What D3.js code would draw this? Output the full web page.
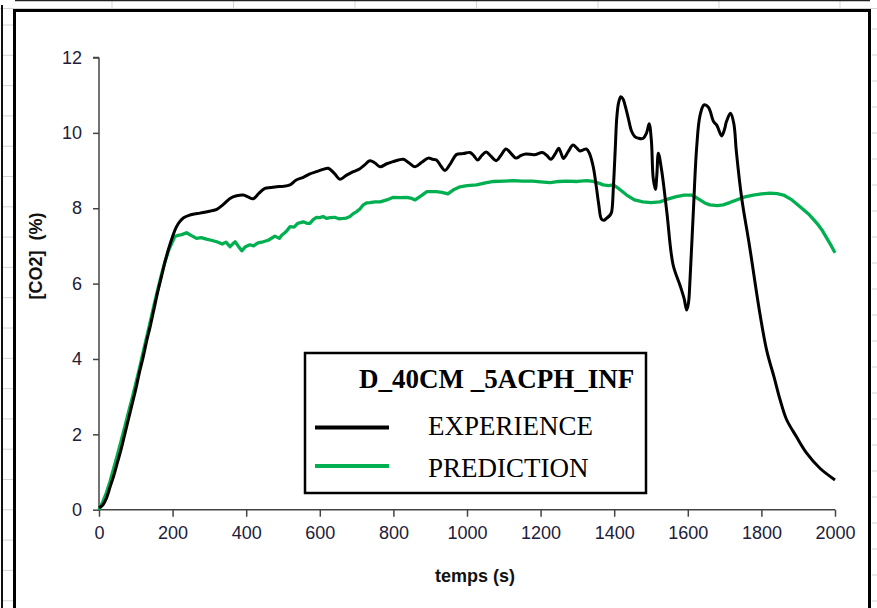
<!DOCTYPE html>
<html>
<head>
<meta charset="utf-8">
<script src="https://cdn.jsdelivr.net/npm/d3@7"></script>
<style>
html,body{margin:0;padding:0;background:#fff;}
svg{display:block;}
</style>
</head>
<body>
<svg id="chart" width="877" height="608"></svg>
<script>
// ---- data ----
const chartTitle = "D_40CM _5ACPH_INF";
const seriesNames = ["EXPERIENCE", "PREDICTION"];
const xTicks = [0, 200, 400, 600, 800, 1000, 1200, 1400, 1600, 1800, 2000];
const yTicks = [0, 2, 4, 6, 8, 10, 12];
const xTitle = "temps (s)";
const yTitle = "[CO2]  (%)";

const expTime = [0,10,20,30,40,50,60,70,80,90,100,110,120,130,140,150,160,170,180,190,200,210,220,230,247,260,274,290,305,320,338,356,374,392,405,419,435,451,467,483,500,519,536,555,573,591,609,623,640,655,673,691,709,722,736,750,764,782,800,814,827,843,859,877,895,906,917,929,940,956,972,990,1008,1018,1029,1040,1052,1065,1079,1092,1106,1120,1133,1147,1160,1183,1205,1217,1228,1240,1249,1256,1262,1275,1288,1298,1307,1316,1325,1333,1343,1351,1358,1365,1372,1379,1389,1393,1398,1403,1407,1412,1418,1424,1429,1438,1447,1456,1465,1478,1488,1495,1501,1506,1512,1516,1520,1529,1543,1560,1579,1590,1597,1602,1606,1615,1624,1633,1644,1656,1670,1679,1692,1700,1705,1716,1725,1732,1746,1768,1796,1815,1835,1851,1868,1895,1923,1959,2000];
const expValue = [0.05,0.12,0.3,0.6,0.9,1.25,1.6,2.0,2.4,2.8,3.2,3.65,4.05,4.5,4.9,5.35,5.8,6.2,6.6,6.95,7.25,7.5,7.65,7.75,7.82,7.85,7.87,7.9,7.93,7.97,8.1,8.26,8.33,8.35,8.3,8.25,8.4,8.53,8.55,8.57,8.58,8.62,8.75,8.82,8.91,8.97,9.03,9.06,8.92,8.77,8.88,8.97,9.05,9.15,9.26,9.2,9.1,9.18,9.24,9.28,9.3,9.2,9.1,9.22,9.33,9.3,9.28,9.12,9.0,9.2,9.43,9.45,9.48,9.4,9.28,9.4,9.49,9.38,9.26,9.4,9.57,9.45,9.33,9.4,9.44,9.42,9.48,9.4,9.3,9.45,9.59,9.45,9.32,9.5,9.68,9.6,9.52,9.55,9.57,9.45,9.1,8.6,8.1,7.72,7.68,7.73,7.82,7.9,8.6,9.6,10.4,10.8,10.96,10.9,10.75,10.4,10.05,9.9,9.86,9.85,10.0,10.24,9.8,8.8,8.5,8.9,9.46,9.0,7.9,6.5,5.95,5.6,5.3,5.5,6.1,7.9,9.6,10.45,10.74,10.68,10.3,10.2,9.92,10.1,10.3,10.52,10.25,9.5,8.3,6.98,5.2,4.2,3.5,2.91,2.4,1.94,1.5,1.1,0.79];

const predTime = [0,10,20,30,40,50,60,70,80,90,100,110,120,130,140,150,160,170,180,190,200,206,215,225,238,250,265,278,292,305,320,335,345,356,363,370,378,388,398,410,420,432,446,460,478,490,497,505,512,519,530,540,555,565,573,582,591,600,609,618,628,640,652,664,672,682,690,700,709,718,727,736,750,764,782,800,818,836,850,859,875,891,904,917,932,948,965,981,1000,1026,1050,1072,1100,1126,1150,1178,1200,1226,1250,1269,1300,1325,1343,1360,1370,1385,1398,1411,1434,1455,1478,1500,1524,1545,1569,1590,1610,1620,1633,1646,1660,1680,1696,1714,1732,1755,1778,1800,1823,1843,1860,1883,1905,1928,1951,1966,1978,1990,2000];
const predValue = [0,0.2,0.45,0.75,1.1,1.45,1.82,2.2,2.58,2.95,3.35,3.75,4.18,4.6,5.02,5.45,5.85,6.25,6.6,6.9,7.12,7.25,7.28,7.3,7.35,7.28,7.2,7.22,7.18,7.15,7.11,7.05,7.1,6.98,7.05,7.11,7.0,6.87,6.98,7.03,7.0,7.08,7.11,7.15,7.26,7.2,7.29,7.35,7.42,7.51,7.5,7.6,7.64,7.6,7.6,7.7,7.76,7.75,7.78,7.73,7.75,7.76,7.72,7.73,7.74,7.78,7.85,7.91,7.98,8.09,8.14,8.15,8.17,8.17,8.22,8.29,8.28,8.29,8.26,8.22,8.33,8.44,8.44,8.44,8.42,8.38,8.5,8.57,8.6,8.62,8.67,8.71,8.72,8.73,8.72,8.72,8.7,8.68,8.71,8.72,8.71,8.73,8.71,8.66,8.62,8.6,8.62,8.53,8.35,8.22,8.17,8.15,8.17,8.24,8.31,8.35,8.35,8.3,8.22,8.14,8.09,8.07,8.09,8.15,8.22,8.3,8.35,8.38,8.4,8.39,8.35,8.22,8.04,7.85,7.6,7.4,7.2,7.0,6.82];

const colors = ["#000000", "#00b050"];

// ---- drawing ----
const svg = d3.select("#chart");
const W = 877, H = 608;

// spreadsheet background grid
const grid = svg.append("g").attr("stroke", "#d4d4d4").attr("stroke-width", 1);
[112, 233.5, 355, 476.5, 598, 719, 840].forEach(x => {
  grid.append("line").attr("x1", x).attr("x2", x).attr("y1", 0).attr("y2", 9);
});
grid.append("line").attr("x1", 0).attr("x2", W).attr("y1", 8.5).attr("y2", 8.5);
d3.range(25, 608, 30.3).forEach(y => {
  grid.append("line").attr("x1", 3).attr("x2", 13).attr("y1", y).attr("y2", y);
});
d3.range(29, 608, 26).forEach(y => {
  grid.append("line").attr("x1", 872).attr("x2", W).attr("y1", y).attr("y2", y);
});
// neighbouring object edges
svg.append("line").attr("x1", 15).attr("x2", 870).attr("y1", 0.5).attr("y2", 0.5)
  .attr("stroke", "#222").attr("stroke-width", 1.5);
svg.append("line").attr("x1", 2).attr("x2", 2).attr("y1", 5).attr("y2", H)
  .attr("stroke", "#111").attr("stroke-width", 2);

// chart frame
svg.append("rect").attr("x", 14.5).attr("y", 10.5).attr("width", 855).attr("height", 620)
  .attr("fill", "#fff").attr("stroke", "#000").attr("stroke-width", 3);

const x = d3.scaleLinear().domain([0, 2000]).range([99, 835]);
const y = d3.scaleLinear().domain([0, 12]).range([509.7, 57.5]);

const tickColor = "#20203a";
// y axis
const yAxis = svg.append("g").attr("transform", `translate(${x(0)},0)`)
  .call(d3.axisLeft(y).tickValues(yTicks).tickSize(6).tickPadding(11).tickFormat(d3.format("d")));
yAxis.select(".domain").attr("stroke", "#444").attr("stroke-width", 1.5).attr("d", `M0,${y(12)}H-6M0,${y(12)}V${y(0)}`);
yAxis.selectAll(".tick line").attr("stroke", "#444").attr("stroke-width", 1.5);
yAxis.selectAll(".tick text").attr("font-family", "Liberation Sans, Arial, sans-serif")
  .attr("font-size", 18).attr("fill", tickColor);

// x axis
const xAxis = svg.append("g").attr("transform", `translate(0,${y(0)})`)
  .call(d3.axisBottom(x).tickValues(xTicks).tickSize(7).tickPadding(10).tickFormat(d3.format("d")));
xAxis.select(".domain").attr("stroke", "#444").attr("stroke-width", 1.5).attr("d", `M${x(0)},0H${x(2000)}`);
xAxis.selectAll(".tick line").attr("stroke", "#444").attr("stroke-width", 1.5);
xAxis.selectAll(".tick text").attr("font-family", "Liberation Sans, Arial, sans-serif")
  .attr("font-size", 18).attr("fill", tickColor);

// axis titles
svg.append("text").attr("x", 475).attr("y", 582).attr("text-anchor", "middle")
  .attr("font-family", "Liberation Sans, Arial, sans-serif").attr("font-weight", "bold")
  .attr("font-size", 18).attr("fill", "#111").text(xTitle);
svg.append("text").attr("transform", "translate(42,256) rotate(-90)").attr("text-anchor", "middle")
  .style("white-space", "pre")
  .attr("font-family", "Liberation Sans, Arial, sans-serif").attr("font-weight", "bold")
  .attr("font-size", 18).attr("fill", "#111").text(yTitle);

// series
const expData = expTime.map((t, i) => [t, expValue[i]]);
const predData = predTime.map((t, i) => [t, predValue[i]]);

const lineSmooth = d3.line().x(d => x(d[0])).y(d => y(d[1])).curve(d3.curveCatmullRom.alpha(0.5));
const lineRaw = d3.line().x(d => x(d[0])).y(d => y(d[1])).curve(d3.curveLinear);

svg.append("path").datum(predData).attr("d", lineRaw)
  .attr("fill", "none").attr("stroke", colors[1]).attr("stroke-width", 3.3).attr("stroke-linejoin", "round");
svg.append("path").datum(expData).attr("d", lineSmooth)
  .attr("fill", "none").attr("stroke", colors[0]).attr("stroke-width", 3).attr("stroke-linejoin", "round");

// legend
const lg = svg.append("g");
lg.append("rect").attr("x", 305).attr("y", 353).attr("width", 341).attr("height", 140)
  .attr("fill", "#fff").attr("stroke", "#000").attr("stroke-width", 2.5);
lg.append("text").attr("x", 359).attr("y", 388).attr("font-family", "Liberation Serif, Times New Roman, serif")
  .attr("font-weight", "bold").attr("font-size", 27).attr("fill", "#000").text(chartTitle);
const legY = [427.5, 466];
const legTextY = [435, 477];
seriesNames.forEach((n, i) => {
  lg.append("line").attr("x1", 315).attr("x2", 389).attr("y1", legY[i]).attr("y2", legY[i])
    .attr("stroke", colors[i]).attr("stroke-width", 4);
  lg.append("text").attr("x", 428).attr("y", legTextY[i])
    .attr("font-family", "Liberation Serif, Times New Roman, serif")
    .attr("font-size", 27).attr("fill", "#000").text(n);
});
</script>
</body>
</html>
